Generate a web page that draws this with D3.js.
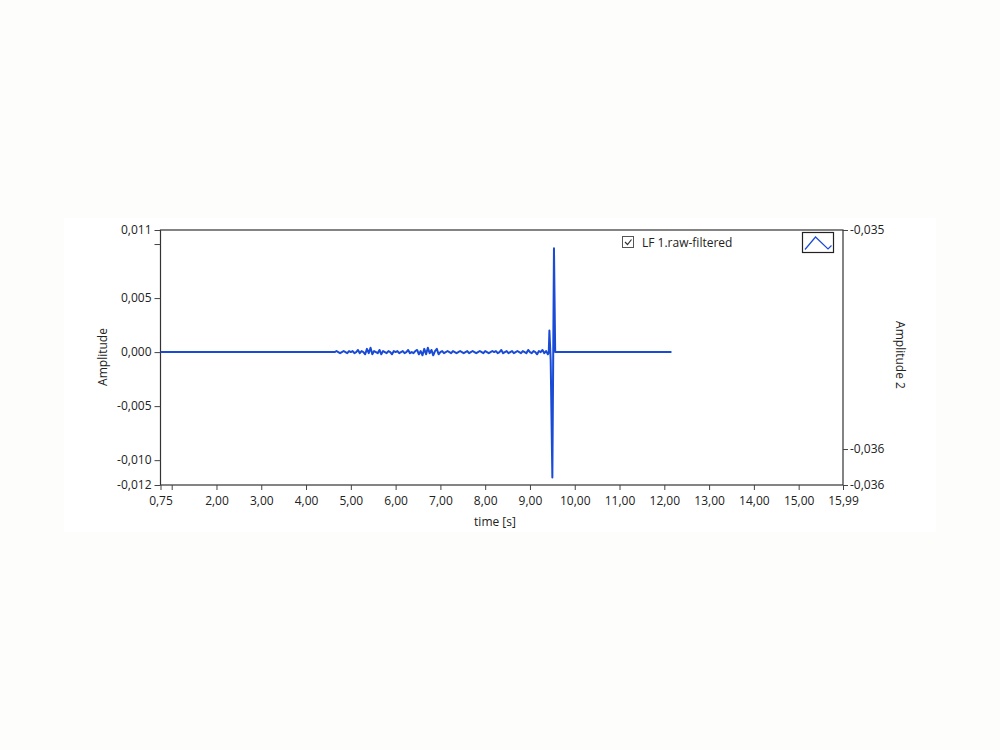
<!DOCTYPE html>
<html>
<head>
<meta charset="utf-8">
<script src="https://cdn.jsdelivr.net/npm/d3@7"></script>
<style>
  html, body { margin: 0; padding: 0; background: #fdfdfc; }
  svg { display: block; }
  text { font-family: "Open Sans", "Noto Sans", sans-serif; fill: #222; }
</style>
</head>
<body>
<svg id="chart" width="1000" height="750"></svg>
<script>
// ---------- data ----------
const xTickValues = [0.75, 1, 2, 3, 4, 5, 6, 7, 8, 9, 10, 11, 12, 13, 14, 15, 15.99];
const xHiddenLabels = [1];
const yTickValues = [0.0113, 0.010, 0.005, 0.000, -0.005, -0.010, -0.0123];
const yHiddenLabels = [0.010];
const y2TickValues = [-0.03505, -0.036, -0.036156];

const seriesName = "LF 1.raw-filtered";
// flat lead-in
const leadTimes = [0.75, 4.56];
const leadValues = [0, 0];
const noiseStart = 4.60, noiseStep = 0.04;
const noiseValues = [
  0,0,1,0,-1,0,1,0,-1,1,0,
  1,-1,0,2,-1,1,0,-2,3,-1,
  4,-2,1,0,-1,2,-2,1,0,-1,
  1,0,-2,1,0,1,-1,0,1,-1,
  0,2,-1,0,-1,1,2,-2,1,-3,
  3,-2,4,-1,2,-3,1,3,-2,0,
  1,-1,0,1,0,-1,1,0,-1,0,
  1,0,-1,0,1,-1,0,1,0,-1,
  0,1,0,-1,1,0,-1,0,1,0,
  1,-1,0,2,-1,0,1,-1,0,1,
  -1,0,1,0,-1,1,0,-1,2,0,
  -1,1,0,-2,1,0,2,-1,1,-2
];
// event burst
const burstTimes  = [9.42, 9.434, 9.463, 9.50, 9.536, 9.563];
const burstValues = [0, 0.0020, -0.0008, -0.0116, 0.0096, 0];
// flat tail
const tailTimes = [12.16];
const tailValues = [0];

// ---------- build series ----------
const points = [];
leadTimes.forEach((t, i) => points.push([t, leadValues[i]]));
noiseValues.forEach((v, i) => points.push([noiseStart + i * noiseStep, v * 1e-4]));
burstTimes.forEach((t, i) => points.push([t, burstValues[i]]));
tailTimes.forEach((t, i) => points.push([t, tailValues[i]]));

// ---------- layout ----------
const svg = d3.select("#chart");
const L = 160.5, R = 843, T = 230, B = 485;
const lineColor = "#1a4bd6";
const fmt = (d, n) => d.toFixed(n).replace(".", ",");

// panel
svg.append("rect").attr("x", 64).attr("y", 218).attr("width", 872).attr("height", 314).attr("fill", "#ffffff");

const x = d3.scaleLinear().domain([0.75, 15.99]).range([L, R]);
const y = d3.scaleLinear().domain([-0.0123, 0.0113]).range([B, T]);
const y2 = d3.scaleLinear().domain([-0.036156, -0.03505]).range([B, T]);

// frame
svg.append("rect").attr("x", L).attr("y", T).attr("width", R - L).attr("height", B - T)
  .attr("fill", "#ffffff").attr("stroke", "#333").attr("stroke-width", 1.2);

// x axis
const xAxis = d3.axisBottom(x).tickValues(xTickValues).tickSize(5).tickSizeOuter(0)
  .tickFormat(d => xHiddenLabels.includes(d) ? "" : fmt(d, 2));
const gx = svg.append("g").attr("transform", `translate(0,${B})`).call(xAxis);
gx.select(".domain").remove();
gx.selectAll(".tick line").attr("stroke", "#444");
gx.selectAll(".tick text").attr("font-size", 12).attr("dy", "1.0em").style("font-family", '"Open Sans", sans-serif').attr("fill", "#222");

// left axis
const yAxis = d3.axisLeft(y).tickValues(yTickValues).tickSize(6).tickSizeOuter(0)
  .tickFormat(d => yHiddenLabels.includes(d) ? "" : fmt(d, 3));
const gy = svg.append("g").attr("transform", `translate(${L},0)`).call(yAxis);
gy.select(".domain").remove();
gy.selectAll(".tick line").attr("stroke", "#444");
gy.selectAll(".tick text").attr("font-size", 12).attr("x", -9).style("font-family", '"Open Sans", sans-serif').attr("fill", "#222");

// right axis
const y2Axis = d3.axisRight(y2).tickValues(y2TickValues).tickSize(5).tickSizeOuter(0)
  .tickFormat(d => fmt(d, 3));
const gy2 = svg.append("g").attr("transform", `translate(${R},0)`).call(y2Axis);
gy2.select(".domain").remove();
gy2.selectAll(".tick line").attr("stroke", "#444");
gy2.selectAll(".tick text").attr("font-size", 12).attr("x", 7).style("font-family", '"Open Sans", sans-serif').attr("fill", "#222");

// axis titles
svg.append("text").attr("x", 495).attr("y", 526).attr("text-anchor", "middle").attr("font-size", 12).text("time [s]");
svg.append("text").attr("transform", "translate(107,357) rotate(-90)").attr("text-anchor", "middle").attr("font-size", 12).text("Amplitude");
svg.append("text").attr("transform", "translate(896,355) rotate(90)").attr("text-anchor", "middle").attr("font-size", 12).text("Amplitude 2");

// series line
const clipId = "plotclip";
svg.append("clipPath").attr("id", clipId).append("rect").attr("x", L).attr("y", T).attr("width", R - L).attr("height", B - T);
svg.append("path").datum(points)
  .attr("clip-path", `url(#${clipId})`)
  .attr("fill", "none").attr("stroke", lineColor).attr("stroke-width", 2).attr("stroke-linejoin", "round")
  .attr("d", d3.line().x(d => x(d[0])).y(d => y(d[1])));

// legend
const lg = svg.append("g");
lg.append("rect").attr("x", 622.5).attr("y", 236.5).attr("width", 11).attr("height", 11)
  .attr("fill", "#fff").attr("stroke", "#555").attr("stroke-width", 1);
lg.append("path").attr("d", "M625,242 L627.5,244.5 L631.5,239.5").attr("fill", "none").attr("stroke", "#333").attr("stroke-width", 1.2);
lg.append("text").attr("x", 642).attr("y", 246.5).attr("font-size", 12).text(seriesName);
lg.append("rect").attr("x", 802.5).attr("y", 232.5).attr("width", 31).attr("height", 20)
  .attr("fill", "#fff").attr("stroke", "#222").attr("stroke-width", 1.2);
lg.append("path").attr("d", "M805,249.5 L815.5,237 L828,249 L831.5,245.5").attr("fill", "none").attr("stroke", lineColor).attr("stroke-width", 1.2);
</script>
</body>
</html>
